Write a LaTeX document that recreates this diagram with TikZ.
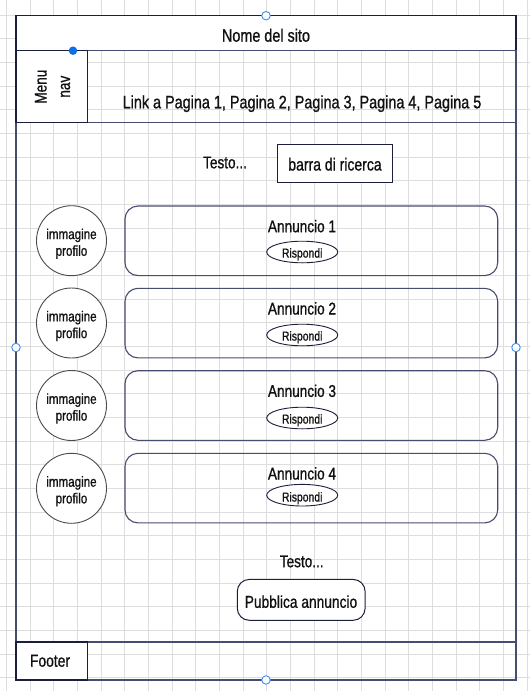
\documentclass[tikz,border=0pt]{standalone}
\usepackage{fontspec}
\setmainfont{Liberation Sans}[FakeStretch=0.8,FakeBold=0.9]
\definecolor{gridc}{HTML}{DEDEDE}
\definecolor{darkline}{HTML}{1B1E3C}
\definecolor{midline}{HTML}{484C6E}
\definecolor{circline}{HTML}{4A4A4A}
\definecolor{handle}{HTML}{3C8CF0}
\definecolor{handledot}{HTML}{0B6FEA}
\definecolor{txt}{HTML}{111111}
\tikzset{
  gridline/.style={draw=gridc, line width=0.9pt},
  darkbox/.style={draw=darkline, line width=1.1pt, fill=white},
  midbox/.style={draw=midline, line width=1.1pt},
  adbox/.style={draw=midline, line width=1.1pt, rounded corners=13pt},
  profcircle/.style={circle, draw=circline, line width=0.9pt, fill=white, minimum size=70pt, inner sep=0pt},
  proftext/.style={text=txt, inner sep=0pt, align=center, font=\fontsize{14.5}{16.7}\selectfont},
  replybtn/.style={ellipse, draw=darkline, line width=0.9pt, fill=white, minimum width=71pt, minimum height=21.6pt, inner sep=0pt},
  lbl/.style={text=txt, inner sep=0pt, anchor=base},
  handlecirc/.style={circle, draw=handle, line width=0.9pt, fill=white, minimum size=8.5pt, inner sep=0pt},
}
\usetikzlibrary{shapes.geometric}
\begin{document}
\begin{tikzpicture}[x=1pt,y=-1pt]
\useasboundingbox (0,0) rectangle (530,691);
\fill[white] (0,0) rectangle (530,691);
% grid
\foreach \i in {0,...,22} \draw[gridline] (6.33+23.67*\i,0) -- (6.33+23.67*\i,691);
\foreach \j in {0,...,28} \draw[gridline] (0,15+23.67*\j) -- (530,15+23.67*\j);
% outer frame
\draw[midbox] (16,15.7) rectangle (516,680);
% header
\draw[darkbox] (16,15.7) rectangle (516,50.7);
\node[lbl, font=\fontsize{18}{21}\selectfont] (title) at (266,41.7) {Nome del sito};
% nav
\draw[midbox] (87.3,50.7) rectangle (516,122.7);
\draw[darkbox] (16,50.7) rectangle (87.3,122.7);
\node[text=txt, inner sep=0pt, rotate=90, align=center, font=\fontsize{17}{23.4}\selectfont] (menu) at (52.5,86.7) {Menu\\nav};
\node[lbl, font=\fontsize{18}{21}\selectfont] (links) at (302,108.3) {Link a Pagina 1, Pagina 2, Pagina 3, Pagina 4, Pagina 5};
% search
\node[lbl, font=\fontsize{17}{20}\selectfont] (testo1) at (225,168.3) {Testo...};
\draw[darkbox, line width=1pt] (277.3,144.5) rectangle (392.7,182.5);
\node[lbl, font=\fontsize{17.5}{20}\selectfont] (search) at (335,170.5) {barra di ricerca};
% ads
\foreach \k/\top/\ell/\lb/\cc in {1/206/252/257.6/240.7, 2/288.3/335/340.6/323, 3/370.7/418/423.6/405.5, 4/453.3/495.2/501.5/488.3}{
  \draw[adbox] (125,\top) rectangle (497.7,\top+69.6);
  \node[lbl, font=\fontsize{17}{20}\selectfont] (ad\k) at (302,\top+26.2) {Annuncio \k};
  \node[replybtn] (reply\k) at (302.2,\ell) {};
  \node[lbl, font=\fontsize{13}{15}\selectfont] (replytxt\k) at (302.2,\lb) {Rispondi};
  \node[profcircle] (prof\k) at (71.5,\cc) {};
  \node[proftext] (proftxt\k) at (71.5,\cc+3) {immagine\\profilo};
}
% publish
\node[lbl, font=\fontsize{17}{20}\selectfont] (testo2) at (301.7,567.2) {Testo...};
\draw[darkbox, line width=1pt, rounded corners=12pt] (237.3,579.4) rectangle (365.1,620.3);
\node[lbl, font=\fontsize{17.2}{20}\selectfont] (publish) at (301,607.8) {Pubblica annuncio};
% footer
\draw[midbox] (87.2,642) rectangle (516,680);
\draw[darkbox] (16,642) rectangle (87.2,680);
\node[lbl, font=\fontsize{17.3}{20}\selectfont] (footer) at (50,666.7) {Footer};
% handles
\node[handlecirc] (h1) at (266,15.7) {};
\node[handlecirc] (h2) at (16,347.5) {};
\node[handlecirc] (h3) at (516,347.5) {};
\node[handlecirc] (h4) at (266,680) {};
\node[circle, fill=handledot, minimum size=8.5pt, inner sep=0pt] (hdot) at (73,50.7) {};
\end{tikzpicture}
\end{document}
